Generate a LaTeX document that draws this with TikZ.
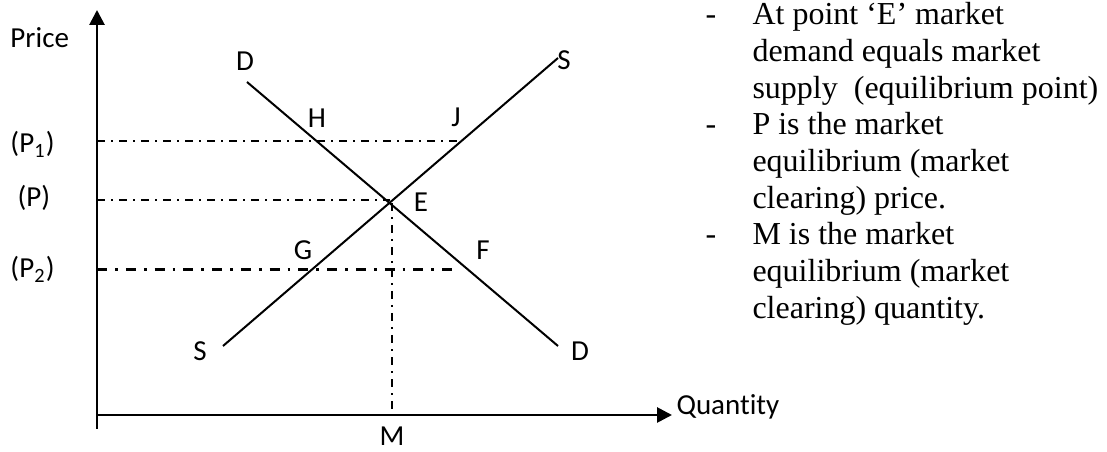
\documentclass[tikz,border=0pt]{standalone}
\usepackage{fontspec}
\setmainfont{Liberation Serif}
\newfontfamily\calibrifont[Ligatures=NoCommon]{Carlito}
\usetikzlibrary{arrows.meta}
\begin{document}
\begin{tikzpicture}[x=0.4pt,y=-0.4pt,
  axis/.style={line width=1.1pt,-{Triangle[length=6pt,width=6pt]}},
  curve/.style={line width=0.8pt},
  guide/.style={line width=0.8pt,dash pattern=on 3.2pt off 2.4pt on 0.8pt off 2.4pt},
  guidebold/.style={line width=1.2pt,dash pattern=on 4pt off 3.2pt on 1.1pt off 3.2pt},
  vguide/.style={line width=0.65pt,dash pattern=on 3.2pt off 2.4pt on 0.8pt off 2.4pt},
  lbl/.style={font=\calibrifont\fontsize{11.6}{13}\selectfont,inner sep=0pt,anchor=base},
  lblw/.style={lbl,anchor=base west},
  txt/.style={font=\fontsize{12.8}{14}\selectfont,inner sep=0pt,anchor=base west}]
\useasboundingbox (0,0) rectangle (1107,452);
% axes
\coordinate (O) at (97,415);
\coordinate (Ybot) at (97,429);
\coordinate (Ytop) at (97,10);
\coordinate (Xend) at (672,415);
\draw[axis] (Ybot) -- (Ytop);
\draw[axis] (O) -- (Xend);
% curves
\coordinate (Dtop) at (247,82);
\coordinate (Dbot) at (558,346);
\coordinate (Sbot) at (223,346);
\coordinate (Stop) at (558,58);
\draw[curve] (Dtop) -- (Dbot);
\draw[curve] (Sbot) -- (Stop);
% guides
\coordinate (P1a) at (97,141);
\coordinate (P1b) at (460,141);
\coordinate (Pa) at (97,200);
\coordinate (Pb) at (390,200);
\coordinate (P2a) at (97,270);
\coordinate (P2b) at (460,270);
\coordinate (Mtop) at (392,203);
\coordinate (Mbot) at (392,415);
\draw[guide] (P1a) -- (P1b);
\draw[guide] (Pa) -- (Pb);
\draw[guidebold] (P2a) -- (P2b);
\draw[vguide] (Mtop) -- (Mbot);
% labels
\node[lblw] (price) at (10,48) {Price};
\node[lblw] (p1) at (10,153) {(P\textsubscript{1})};
\node[lblw] (p) at (17,207) {(P)};
\node[lblw] (p2) at (10,278) {(P\textsubscript{2})};
\node[lbl] (lD1) at (245,71) {D};
\node[lbl] (lH) at (317,128) {H};
\node[lbl] (lJ) at (456,127) {J};
\node[lbl] (lS1) at (564,70) {S};
\node[lbl] (lE) at (421,212) {E};
\node[lbl] (lG) at (303,260) {G};
\node[lbl] (lF) at (483,260) {F};
\node[lbl] (lS2) at (200,361) {S};
\node[lbl] (lD2) at (580,361) {D};
\node[lbl] (lM) at (392,446) {M};
\node[lblw] (qty) at (676,415) {Quantity};
% notes
\node[txt] (b1) at (705,25) {-};
\node[txt] (t1) at (752,25) {At point ‘E’ market};
\node[txt] (t2) at (752,61.7) {demand equals market};
\node[txt] (t3) at (752,98.4) {supply\ \ (equilibrium point)};
\node[txt] (b2) at (705,135) {-};
\node[txt] (t4) at (752,135) {P is the market};
\node[txt] (t5) at (752,171.8) {equilibrium (market};
\node[txt] (t6) at (752,208.5) {clearing) price.};
\node[txt] (b3) at (705,245) {-};
\node[txt] (t7) at (752,245) {M is the market};
\node[txt] (t8) at (752,282) {equilibrium (market};
\node[txt] (t9) at (752,318.5) {clearing) quantity.};
\end{tikzpicture}
\end{document}
